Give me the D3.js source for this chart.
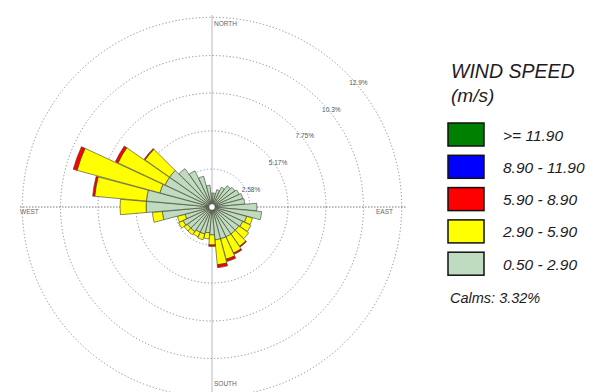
<!DOCTYPE html>
<meta charset="utf-8">
<style>
  body { margin: 0; background: #fff; }
  svg text { font-family: "Liberation Sans", Arial, sans-serif; }
  .legend text { font-style: italic; fill: #1e1a22; }
</style>
<body>
<div id="chart"></div>
<script src="https://d3js.org/d3.v7.min.js"></script>
<script>
  // direction (degrees, blowing from) and percent of time per speed class
  var directions = [0, 10, 20, 30, 40, 50, 60, 70, 80, 90, 100, 110,
                    120, 130, 140, 150, 160, 170, 180, 190, 200, 210, 220, 230,
                    240, 250, 260, 270, 280, 290, 300, 310, 320, 330, 340, 350];
  var speed_050_290 = [0.95, 0.95, 1.22, 1.49, 1.77, 1.90, 2.04, 2.17, 2.24, 3.05, 3.39, 2.44,
                       2.31, 2.24, 2.24, 2.24, 2.24, 2.24, 1.90, 1.77, 1.90, 1.90, 2.04, 2.04,
                       2.17, 1.90, 3.39, 4.48, 4.48, 3.67, 3.53, 3.53, 3.19, 2.72, 2.17, 1.49];
  var speed_290_590 = [0, 0, 0, 0, 0, 0, 0, 0, 0, 0, 0, 0.41,
                       0.61, 0.81, 1.02, 1.22, 1.43, 1.70, 0.68, 0.41, 0.41, 0.34, 0.27, 0.27,
                       0.34, 0.54, 0.68, 1.77, 3.53, 5.84, 3.53, 2.04, 0, 0, 0, 0];
  var speed_590_890 = [0, 0, 0, 0, 0, 0, 0, 0, 0, 0, 0, 0,
                       0, 0, 0.07, 0.10, 0.17, 0.20, 0.10, 0, 0, 0, 0, 0,
                       0, 0, 0, 0, 0.14, 0.27, 0.20, 0.07, 0, 0, 0, 0];
  var speed_890_1190 = [0, 0, 0, 0, 0, 0, 0, 0, 0, 0, 0, 0, 0, 0, 0, 0, 0, 0,
                        0, 0, 0, 0, 0, 0, 0, 0, 0, 0, 0, 0, 0, 0, 0, 0, 0, 0];
  var speed_ge_1190 = [0, 0, 0, 0, 0, 0, 0, 0, 0, 0, 0, 0, 0, 0, 0, 0, 0, 0,
                       0, 0, 0, 0, 0, 0, 0, 0, 0, 0, 0, 0, 0, 0, 0, 0, 0, 0];

  var ring_values = [2.58, 5.17, 7.75, 10.3, 12.9];
  var ring_labels = ["2.58%", "5.17%", "7.75%", "10.3%", "12.9%"];
  var compass_labels = ["NORTH", "EAST", "SOUTH", "WEST"];

  var legend_labels = [">= 11.90", "8.90 - 11.90", "5.90 - 8.90", "2.90 - 5.90", "0.50 - 2.90"];
  var legend_colors = ["#008000", "#0000ff", "#ff0000", "#ffff00", "#c0dcc0"];
  var calms = "Calms: 3.32%";

  // inner class first when stacking outward
  var classes = [speed_050_290, speed_290_590, speed_590_890, speed_890_1190, speed_ge_1190];
  var class_colors = ["#c0dcc0", "#ffff00", "#ff0000", "#0000ff", "#008000"];

  var width = 596, height = 392;
  var cx = 212, cy = 207;

  var svg = d3.select("#chart").append("svg")
    .attr("width", width)
    .attr("height", height);

  var r = d3.scaleLinear().domain([0, 12.92]).range([0, 190]);
  var toRad = Math.PI / 180;

  var g = svg.append("g").attr("transform", "translate(" + cx + "," + cy + ")");

  // axes
  g.append("line")
    .attr("x1", -r(12.92) - 2).attr("x2", r(12.92) + 4)
    .attr("y1", 0).attr("y2", 0)
    .attr("stroke", "#777").attr("stroke-width", 1)
    .attr("stroke-dasharray", "1.5,1.5");
  g.append("line")
    .attr("x1", 0).attr("x2", 0)
    .attr("y1", -r(12.92) - 2).attr("y2", r(12.92) + 4)
    .attr("stroke", "#b8b8d0").attr("stroke-width", 1);

  // rings
  g.selectAll("circle.ring")
    .data(ring_values)
    .enter().append("circle")
    .attr("class", "ring")
    .attr("r", function(d) { return r(d); })
    .attr("fill", "none")
    .attr("stroke", function(d, i) { return i == 0 ? "#9090d8" : "#8a8a8a"; })
    .attr("stroke-width", 1)
    .attr("stroke-dasharray", "1.2,2.2");

  // ring labels along the north-east diagonal
  g.selectAll("text.ringlabel")
    .data(ring_values)
    .enter().append("text")
    .attr("class", "ringlabel")
    .attr("x", function(d) { return r(d) * Math.cos(45 * toRad) + 3; })
    .attr("y", function(d) { return -r(d) * Math.sin(45 * toRad) + 12; })
    .attr("font-size", 6.5)
    .attr("fill", "#555")
    .text(function(d, i) { return ring_labels[i]; });

  // compass labels
  var R = r(12.92);
  var compass_pos = [[2, -R + 9], [R - 26, 7], [2, R - 11], [-R - 2, 7]];
  g.selectAll("text.compass")
    .data(compass_labels)
    .enter().append("text")
    .attr("class", "compass")
    .attr("x", function(d, i) { return compass_pos[i][0]; })
    .attr("y", function(d, i) { return compass_pos[i][1]; })
    .attr("font-size", 6.5)
    .attr("fill", "#666")
    .text(function(d) { return d; });

  // petals
  var arc = d3.arc();
  var petals = [];
  directions.forEach(function(dir, i) {
    var acc = 0;
    classes.forEach(function(cls, k) {
      if (cls[i] > 0) {
        petals.push({dir: dir, inner: acc, outer: acc + cls[i], color: class_colors[k]});
        acc += cls[i];
      }
    });
  });

  g.append("g")
    .selectAll("path")
    .data(petals)
    .enter().append("path")
    .attr("d", function(d) {
      return arc({
        innerRadius: r(d.inner),
        outerRadius: r(d.outer),
        startAngle: (d.dir - 4.8) * toRad,
        endAngle: (d.dir + 4.8) * toRad
      });
    })
    .attr("fill", function(d) { return d.color; })
    .attr("stroke", "#3a3a2a")
    .attr("stroke-width", 0.6);

  // calm circle
  g.append("circle").attr("r", 3.2)
    .attr("fill", "#fff").attr("stroke", "#444").attr("stroke-width", 0.6);

  // legend
  var legend = svg.append("g").attr("class", "legend");
  legend.append("text").attr("x", 451).attr("y", 78)
    .attr("font-size", 19.5).text("WIND SPEED");
  legend.append("text").attr("x", 451).attr("y", 102)
    .attr("font-size", 19).text("(m/s)");

  var item = legend.selectAll("g.item")
    .data(legend_labels)
    .enter().append("g")
    .attr("class", "item")
    .attr("transform", function(d, i) { return "translate(448," + (123 + i * 32.3) + ")"; });
  item.append("rect")
    .attr("width", 36).attr("height", 23)
    .attr("fill", function(d, i) { return legend_colors[i]; })
    .attr("stroke", "#111").attr("stroke-width", 1.5);
  item.append("text")
    .attr("x", 55).attr("y", 17.5)
    .attr("font-size", 15.5)
    .text(function(d) { return d; });

  legend.append("text").attr("x", 450).attr("y", 303)
    .attr("font-size", 14.5).text(calms);
</script>
</body>
